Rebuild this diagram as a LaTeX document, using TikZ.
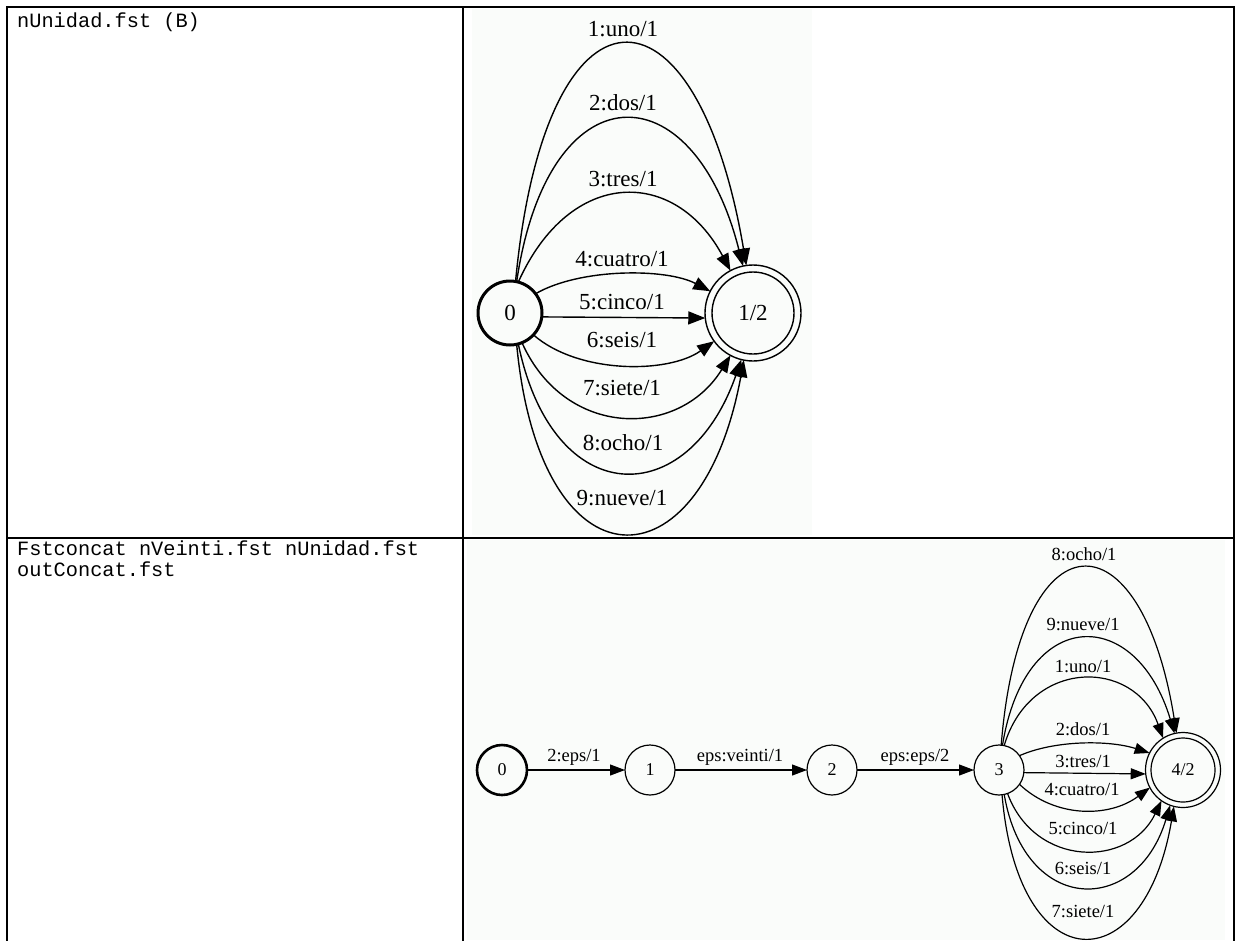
\documentclass[tikz,border=0pt]{standalone}
\usepackage{fontspec}
\setmainfont{Liberation Serif}
\setmonofont{Liberation Mono}
\usetikzlibrary{arrows.meta}
\definecolor{bgc}{RGB}{250,252,250}
\begin{document}
\begin{tikzpicture}[x=1pt,y=-1pt,
  tbl/.style={line width=2pt,line cap=rect},
  stT/.style={circle,draw,line width=1.4pt,inner sep=0pt,outer sep=0pt,font=\fontsize{23}{23}\selectfont},
  stB/.style={circle,draw,line width=1.2pt,inner sep=0pt,outer sep=0pt,minimum size=50,font=\fontsize{18}{18}\selectfont},
  eT/.style={line width=1.4pt,-{Triangle[length=17pt,width=13pt]}},
  eB/.style={line width=1.2pt,-{Triangle[length=15pt,width=11pt]}},
  lT/.style={inner sep=0pt,font=\fontsize{23}{23}\selectfont},
  lB/.style={inner sep=0pt,font=\fontsize{18.5}{18.5}\selectfont},
  cmd/.style={inner sep=0pt,anchor=base west,font=\ttfamily\fontsize{20.3}{21}\selectfont}]
\useasboundingbox (0,0) rectangle (1236,940);
% backgrounds of the graph pictures
\fill[bgc] (472,9) rectangle (812,535);
\fill[bgc] (467,540) rectangle (1225,940);
% table
\draw[tbl] (7,940) -- (7,7) -- (1234,7) -- (1234,940);
\draw[tbl] (463,7) -- (463,940);
\draw[tbl] (7,538) -- (1234,538);
% left column texts
\node[cmd] (t1) at (17,27) {nUnidad.fst (B)};
\node[cmd] (t2) at (17,555) {Fstconcat nVeinti.fst nUnidad.fst};
\node[cmd] (t3) at (17,576) {outConcat.fst};

% ---------- top graph ----------
\node[stT,line width=3pt,minimum size=64] (a0) at (510,313) {0};
\node[stT,minimum size=96] (a1) at (753,313) {1/2};
\draw[line width=1.4pt] (a1.center) circle (41);

\draw[eT] (a0.80) .. controls (545,-32) and (696,-32) .. (a1.98);
\draw[eT] (a0.78) .. controls (548,68) and (693,68) .. (a1.102);
\draw[eT] (a0.75) .. controls (570,167) and (675,167) .. (a1.118);
\draw[eT] (a0.37) .. controls (580,268) and (666,268) .. (a1.153);
\draw[eT] (a0.-7) -- (a1.186);
\draw[eT] (a0.-43) .. controls (578,374) and (668,374) .. (a1.216);
\draw[eT] (a0.-68) .. controls (565,439) and (679,439) .. (a1.242);
\draw[eT] (a0.-75) .. controls (553,512) and (688,512) .. (a1.256);
\draw[eT] (a0.-78) .. controls (540,593) and (701,593) .. (a1.259);

\node[lT] (la1) at (623,29) {1:uno/1};
\node[lT] (la2) at (623,103) {2:dos/1};
\node[lT] (la3) at (623,179) {3:tres/1};
\node[lT] (la4) at (622,259) {4:cuatro/1};
\node[lT] (la5) at (622,302) {5:cinco/1};
\node[lT] (la6) at (622,340) {6:seis/1};
\node[lT] (la7) at (622,388) {7:siete/1};
\node[lT] (la8) at (623,443) {8:ocho/1};
\node[lT] (la9) at (622,498) {9:nueve/1};

% ---------- bottom graph ----------
\node[stB,line width=2.6pt] (b0) at (502,770) {0};
\node[stB] (b1) at (650,770) {1};
\node[stB] (b2) at (832,770) {2};
\node[stB] (b3) at (999,770) {3};
\node[stB,minimum size=75] (b4) at (1183,770) {4/2};
\draw[line width=1.2pt] (b4.center) circle (32);

\draw[eB] (b0) -- (b1);
\draw[eB] (b1) -- (b2);
\draw[eB] (b2) -- (b3);
\node[lB] (lb01) at (574,757) {2:eps/1};
\node[lB] (lb12) at (740,757) {eps:veinti/1};
\node[lB] (lb23) at (915,757) {eps:eps/2};

\draw[eB] (b3.85) .. controls (1020,511) and (1141,511) .. (b4.100);
\draw[eB] (b3.82) .. controls (1025,605) and (1136,605) .. (b4.103);
\draw[eB] (b3.78) .. controls (1030,658) and (1134,658) .. (b4.122);
\draw[eB] (b3.35) .. controls (1055,740) and (1109,740) .. (b4.153);
\draw[eB] (b3.-6) -- (b4.186);
\draw[eB] (b3.-35) .. controls (1055,818) and (1109,818) .. (b4.208);
\draw[eB] (b3.-70) .. controls (1035,868) and (1129,868) .. (b4.235);
\draw[eB] (b3.-78) .. controls (1025,916) and (1137,916) .. (b4.250);
\draw[eB] (b3.-83) .. controls (1018,983) and (1144,983) .. (b4.256);

\node[lB] (lc8) at (1084,554) {8:ocho/1};
\node[lB] (lc9) at (1083,624) {9:nueve/1};
\node[lB] (lc1) at (1083,667) {1:uno/1};
\node[lB] (lc2) at (1083,729) {2:dos/1};
\node[lB] (lc3) at (1083,761) {3:tres/1};
\node[lB] (lc4) at (1082,790) {4:cuatro/1};
\node[lB] (lc5) at (1083,828) {5:cinco/1};
\node[lB] (lc6) at (1083,868) {6:seis/1};
\node[lB] (lc7) at (1083,911) {7:siete/1};
\end{tikzpicture}
\end{document}
